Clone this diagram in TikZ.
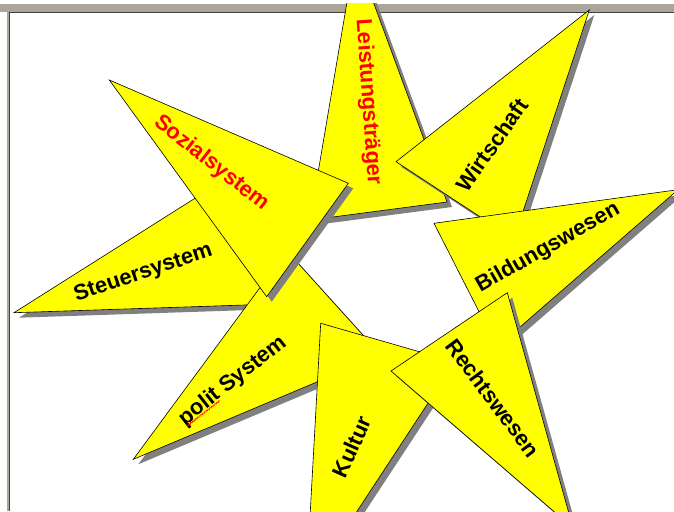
\documentclass[tikz,border=0pt]{standalone}
\usepackage{fontspec}
\setmainfont{Liberation Sans}
\usetikzlibrary{decorations.pathmorphing}
\definecolor{framegray}{RGB}{170,166,154}
\definecolor{shadowgray}{RGB}{128,128,128}
\definecolor{staryellow}{RGB}{255,255,0}
\tikzset{
  tri/.style={fill=staryellow, draw=black, line width=0.6pt, line join=miter},
  trishadow/.style={fill=shadowgray},
  lbl/.style={font=\fontsize{22}{26}\selectfont\bfseries, inner sep=0pt, text=black},
  redlbl/.style={lbl, text=red},
  spellmark/.style={draw=red, line width=0.6pt, decorate, decoration={zigzag, amplitude=0.7pt, segment length=2.2pt}}
}
\newcommand\mystartri[3]{%
  \fill[trishadow, shift={(5,5)}] #1 -- #2 -- #3 -- cycle;
  \filldraw[tri] #1 -- #2 -- #3 -- cycle;}
\begin{document}
\begin{tikzpicture}[x=1pt,y=-1pt]
\useasboundingbox (0,0) rectangle (674,511);
\fill[white] (0,0) rectangle (674,511);
\fill[framegray] (0,4) rectangle (674,12.5);
\fill[framegray] (6.5,12.5) rectangle (9.5,511);
\draw[black!75, line width=0.8pt] (9.5,511) -- (9.5,12.5) -- (674,12.5);
\begin{scope}
\clip (0,4) rectangle (674,511);
% Leistungstraeger
\mystartri{(355.3,-46.7)}{(310,220)}{(447,202)}
\node[redlbl, rotate=-86] (leist) at (368,102) {Leistungsträger};
% Wirtschaft
\mystartri{(589.3,10)}{(396,161.7)}{(514,239)}
\node[lbl, rotate=55] (wirt) at (492,145) {Wirtschaft};
% Bildungswesen
\mystartri{(434,223.3)}{(678,189.7)}{(497,347)}
\node[lbl, rotate=29.6] (bild) at (548,248) {Bildungswesen};
% Steuersystem
\mystartri{(14,312.7)}{(250,163.5)}{(275,304)}
\node[lbl, rotate=18.4] (steuer) at (143.3,273.3) {Steuersystem};
% polit System
\mystartri{(133.3,459.3)}{(287,251)}{(381,355)}
\node[lbl, rotate=38.3] (polit) at (233,381) {polit System};
\draw[spellmark] (187,426) -- (220,400.5);
% Kultur
\mystartri{(320.7,323.3)}{(455,362)}{(306,589)}
\node[lbl, rotate=66] (kultur) at (351.7,446.7) {Kultur};
% Rechtswesen
\mystartri{(507.3,292.7)}{(391,371)}{(573,528)}
\node[lbl, rotate=-53.4] (recht) at (493,398) {Rechtswesen};
% Sozialsystem
\mystartri{(109.3,80)}{(348.3,183.3)}{(266.7,296.7)}
\node[redlbl, rotate=-38.2] (sozial) at (211.7,163.3) {Sozialsystem};
\end{scope}
\end{tikzpicture}
\end{document}
